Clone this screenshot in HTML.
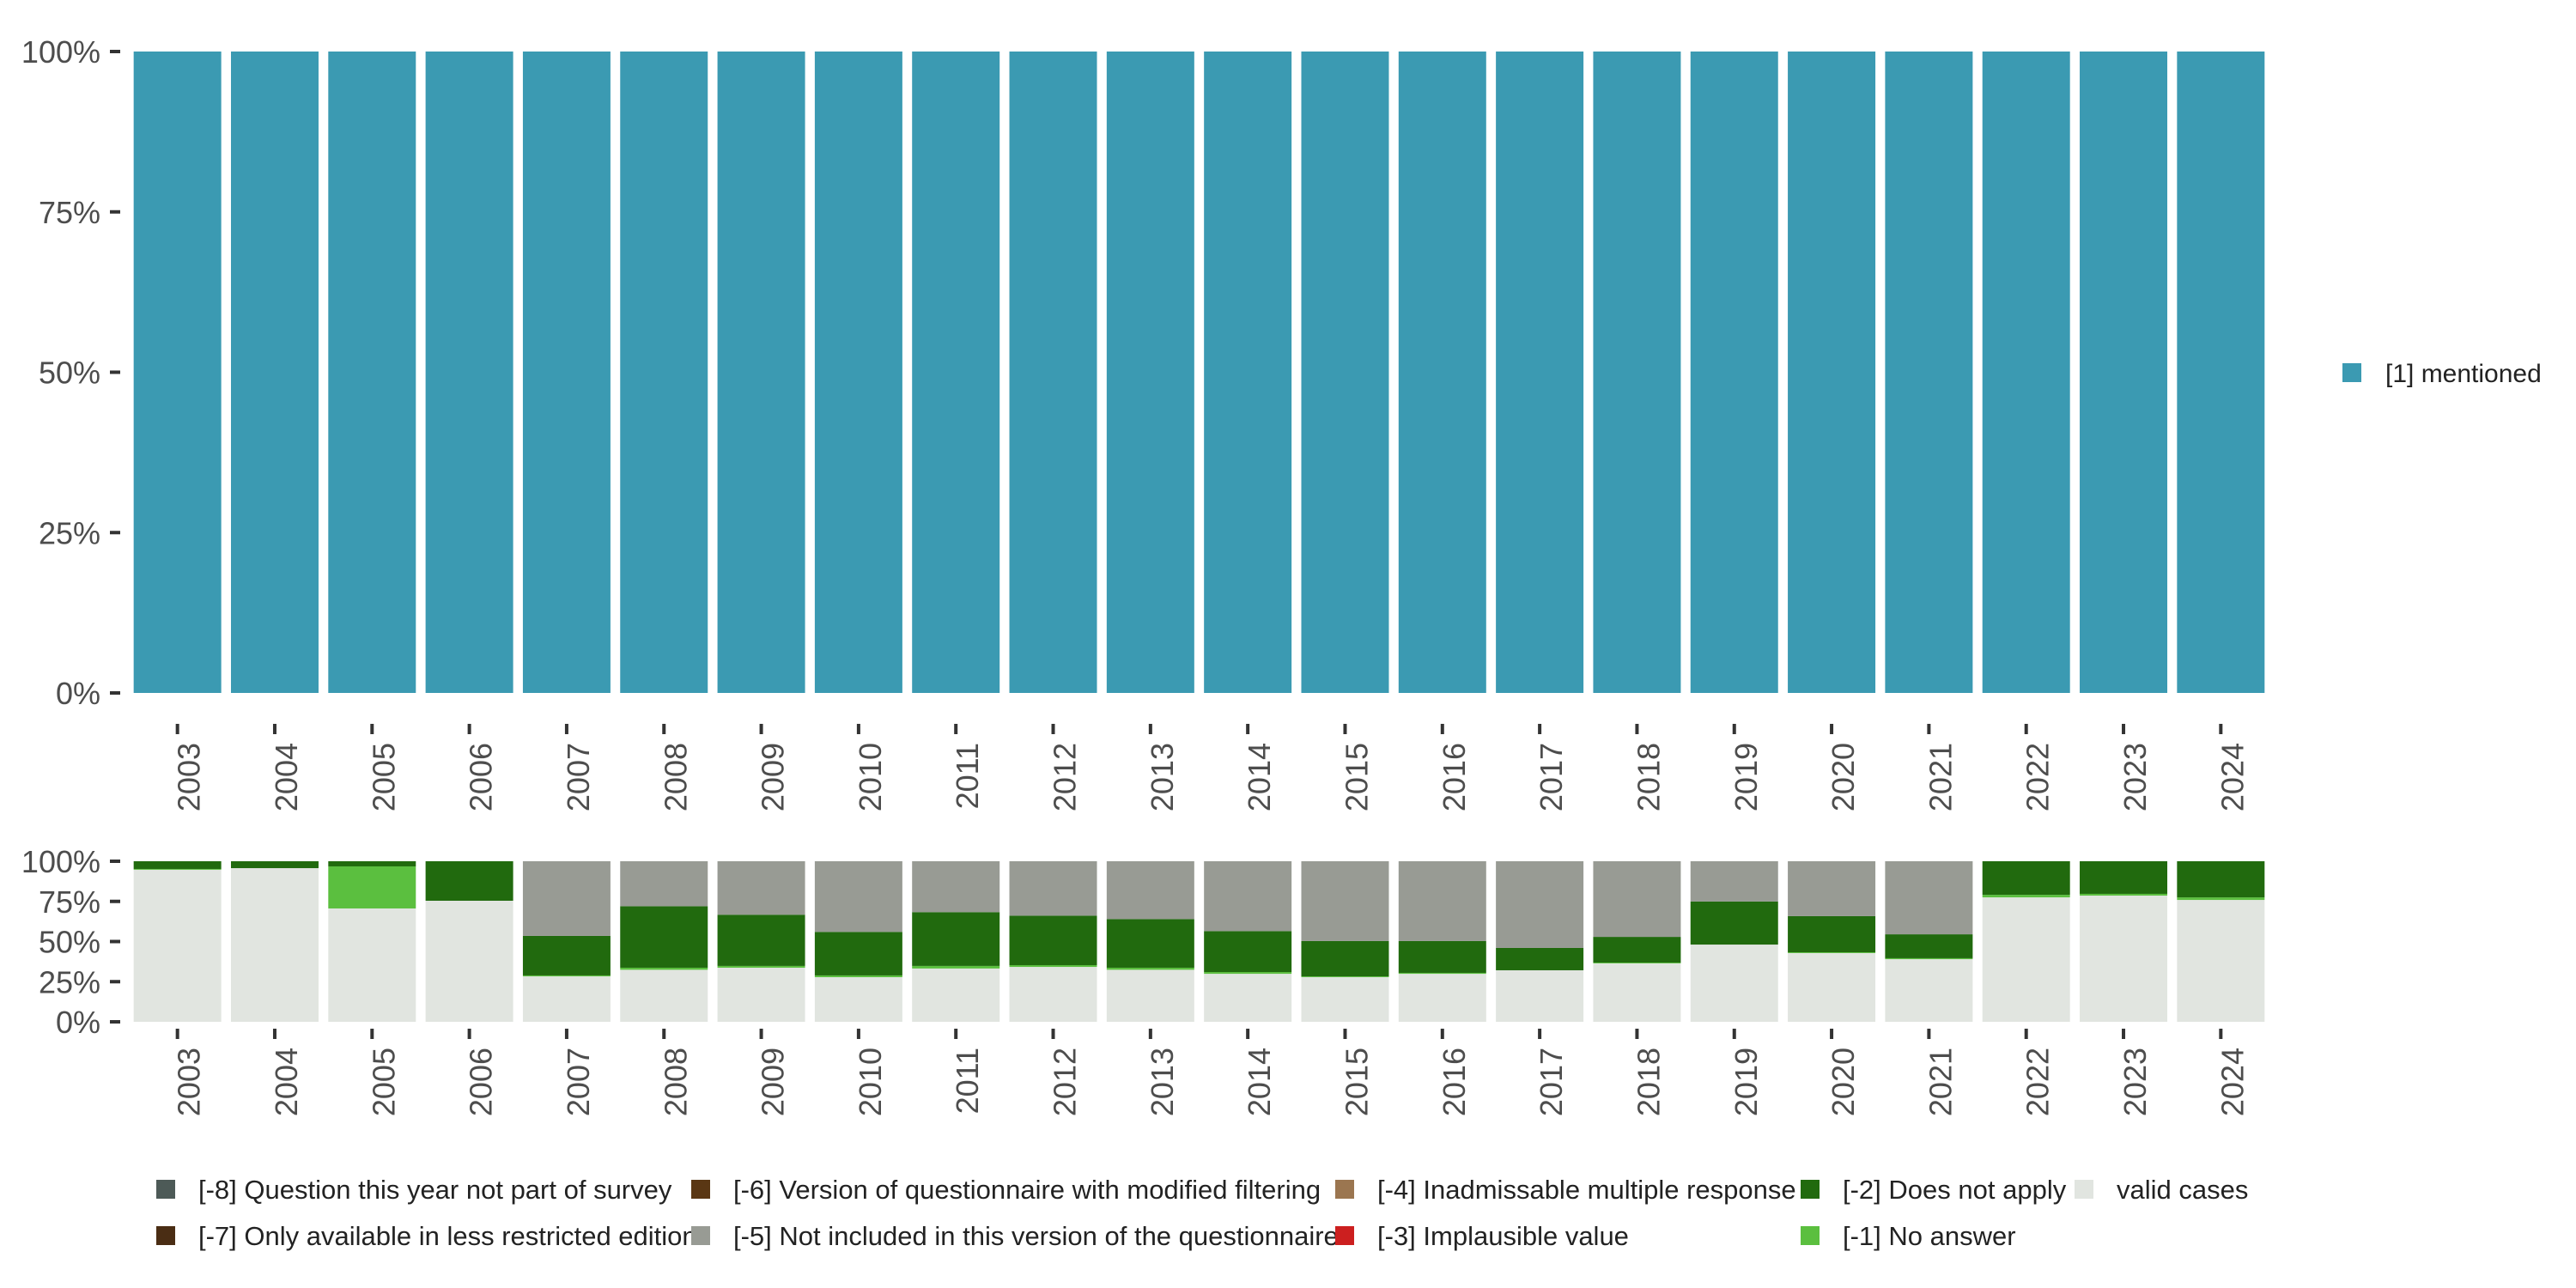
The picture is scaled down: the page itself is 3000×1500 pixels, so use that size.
<!DOCTYPE html>
<html><head><meta charset="utf-8"><style>
html,body{margin:0;padding:0;background:#fff;}
svg{display:block;font-family:"Liberation Sans","DejaVu Sans",sans-serif;}
</style></head><body>
<svg id="chart" width="3000" height="1500" viewBox="0 0 3000 1500" xmlns="http://www.w3.org/2000/svg"></svg>
<script>
const years = ['2003','2004','2005','2006','2007','2008','2009','2010','2011','2012','2013','2014','2015','2016','2017','2018','2019','2020','2021','2022','2023','2024'];
const mentioned = [100,100,100,100,100,100,100,100,100,100,100,100,100,100,100,100,100,100,100,100,100,100];
const validCases = [94.7,95.7,70.6,75.4,28.3,32.4,33.7,27.8,33.2,34.2,32.4,29.9,27.8,29.9,32.1,36.4,48.1,42.8,39.0,77.5,78.6,75.9];
const noAnswer = [0.5,0,26.2,0,0.6,1.3,1.1,1.1,1.6,1.1,1.3,1.1,0.5,0.6,0,0.5,0,0.5,0.6,1.6,1.1,1.6];
const doesNotApply = [4.8,4.3,3.2,24.6,24.6,38.3,31.9,27.1,33.5,30.8,30.3,25.5,22.0,19.8,13.9,16.0,26.8,22.5,14.9,20.9,20.3,22.5];
const notIncluded = [0,0,0,0,46.5,28.0,33.3,44.0,31.7,33.9,36.0,43.5,49.7,49.7,54.0,47.1,25.1,34.2,45.5,0,0,0];
const yTicks = [0,25,50,75,100];
const yTickLabels = ['0%','25%','50%','75%','100%'];

const svg = document.getElementById('chart');
const NS = 'http://www.w3.org/2000/svg';
function mk(tag, attrs, parent){const e=document.createElementNS(NS,tag);for(const k in attrs)e.setAttribute(k,attrs[k]);(parent||svg).appendChild(e);return e;}

const X0=150, X1=2643;
const slot=(X1-X0)/years.length, barW=slot*0.9;
function xPos(i){return X0+i*slot+(slot-barW)/2;}

function panel(name, yTop, yBot, series, colors, seriesNames, tickY0, labelY){
  const g=mk('g',{});
  
  
  const yS=v=>yBot-(v/100)*(yBot-yTop);
  years.forEach((yr,i)=>{
    let acc=0;
    series.forEach((s,k)=>{
      const v=s[i]; if(v<=0){return;}
      const r=mk('rect',{x:xPos(i),y:yS(acc+v),width:barW,height:yS(acc)-yS(acc+v),fill:colors[k]},g);
      
      
      acc+=v;
    });
    const cx=xPos(i)+barW/2;
    const t=mk('line',{x1:cx,x2:cx,y1:tickY0,y2:tickY0+12,stroke:'#333','stroke-width':4},g);
    
    
    const lb=mk('text',{x:cx+26,y:labelY,'font-size':36,fill:'#4d4d4d','text-anchor':'end',transform:`rotate(-90 ${cx+26} ${labelY})`},g);
    lb.textContent=yr;
    
    
  });
  yTicks.forEach((v,j)=>{
    const y=yS(v);
    const tk=mk('line',{x1:128,x2:140,y1:y,y2:y,stroke:'#333','stroke-width':4},g);
    
    
    const tl=mk('text',{x:117,y:y+13,'font-size':36,fill:'#4d4d4d','text-anchor':'end'},g);
    tl.textContent=yTickLabels[j];
    
    
  });
}
panel('top-panel',60,807,[mentioned],['#3b9ab2'],['mentioned'],843,865);
panel('bottom-panel',1003,1190,[validCases,noAnswer,doesNotApply,notIncluded],['#e1e5e0','#5bbf3f','#216a0e','#989b94'],['valid','no-answer','does-not-apply','not-included'],1198,1220);

// right legend
const rl=mk('rect',{x:2728,y:423,width:22,height:22,fill:'#3b9ab2'});


const rt=mk('text',{x:2778,y:445,'font-size':30,fill:'#222'});
rt.textContent='[1] mentioned';



// bottom legend
const legItems=[
 [182,1385,'#4d5a57','[-8] Question this year not part of survey'],
 [182,1439,'#4a2d14','[-7] Only available in less restricted edition'],
 [805,1385,'#5a3714','[-6] Version of questionnaire with modified filtering'],
 [805,1439,'#989b94','[-5] Not included in this version of the questionnaire'],
 [1555,1385,'#9b7650','[-4] Inadmissable multiple response'],
 [1555,1439,'#cc1f1f','[-3] Implausible value'],
 [2097,1385,'#216a0e','[-2] Does not apply'],
 [2097,1439,'#5bbf3f','[-1] No answer'],
 [2416,1385,'#e1e5e0','valid cases']
];
legItems.forEach((it,i)=>{
  const r=mk('rect',{x:it[0],y:it[1]-11,width:22,height:22,fill:it[2]});
  
  
  const t=mk('text',{x:it[0]+49,y:it[1]+11,'font-size':31,fill:'#222'});
  t.textContent=it[3];
  
  
});
</script>
</body></html>
